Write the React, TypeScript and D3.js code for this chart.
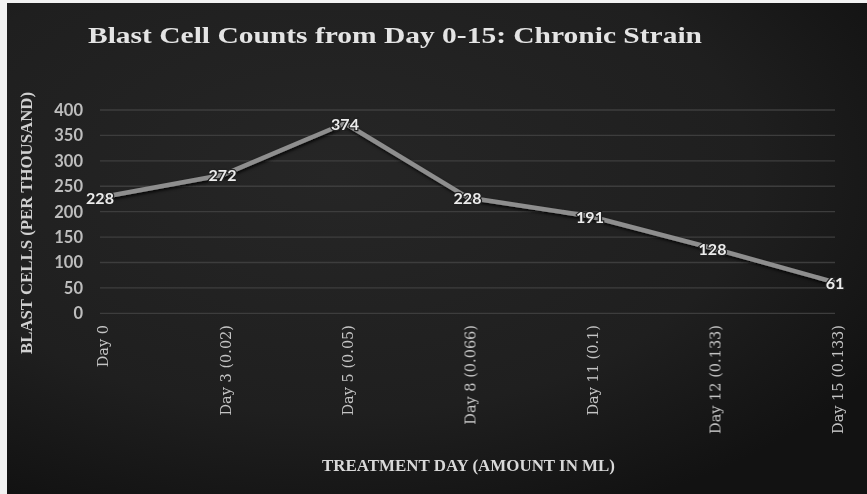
import React from "react";
import * as d3 from "d3";

const categories = [
  "Day 0",
  "Day 3 (0.02)",
  "Day 5 (0.05)",
  "Day 8 (0.066)",
  "Day 11 (0.1)",
  "Day 12 (0.133)",
  "Day 15 (0.133)",
];
const blastCounts = [228, 272, 374, 228, 191, 128, 61];
const yTicks = [0, 50, 100, 150, 200, 250, 300, 350, 400];

const title = "Blast Cell Counts from Day 0-15: Chronic Strain";
const xTitle = "TREATMENT DAY (AMOUNT IN ML)";
const yTitle = "BLAST CELLS (PER THOUSAND)";

const W = 867;
const H = 494;
const plot = { left: 100, right: 835, top: 110, bottom: 313.3 };

export default function App() {
  const x = d3
    .scalePoint<string>()
    .domain(categories)
    .range([plot.left, plot.right]);
  const y = d3.scaleLinear().domain([0, 400]).range([plot.bottom, plot.top]);

  const line = d3
    .line<number>()
    .x((_, i) => x(categories[i]) as number)
    .y((d) => y(d));
  const path = line(blastCounts) || "";

  const serif = "'Liberation Serif', 'DejaVu Serif', serif";
  const sans = "Lato, 'Open Sans', sans-serif";

  return (
    <svg
      width={W}
      height={H}
      style={{ position: "absolute", left: 0, top: 0 }}
    >
      <defs>
        <radialGradient id="bg" cx="0.38" cy="0.35" r="0.75">
          <stop offset="0" stopColor="#262626" />
          <stop offset="0.65" stopColor="#1f1f1f" />
          <stop offset="1" stopColor="#121212" />
        </radialGradient>
        <filter id="shadow" x="-5%" y="-20%" width="110%" height="140%">
          <feDropShadow dx="1" dy="2" stdDeviation="1.5" floodColor="#000" floodOpacity="0.8" />
        </filter>
        <filter id="soft">
          <feGaussianBlur stdDeviation="0.35" />
        </filter>
      </defs>
      <rect x={0} y={0} width={W} height={H} fill="#f2f2f2" />
      <rect x={7} y={3} width={W - 7} height={H - 3} fill="url(#bg)" />

      <g filter="url(#soft)">
        {/* title */}
        <text
          x={88}
          y={43}
          fontFamily={serif}
          fontWeight="bold"
          fontSize={22.5}
          fill="#e4e4e4"
          textLength={614}
          lengthAdjust="spacingAndGlyphs"
        >
          {title}
        </text>

        {/* horizontal gridlines */}
        {yTicks.map((t) => (
          <line
            key={"g" + t}
            x1={plot.left}
            x2={plot.right}
            y1={y(t)}
            y2={y(t)}
            stroke="#3d3d3d"
            strokeWidth={1.3}
          />
        ))}

        {/* y tick labels */}
        {yTicks.map((t) => (
          <text
            key={"yt" + t}
            x={83}
            y={y(t)}
            dy="0.36em"
            textAnchor="end"
            fontFamily={sans}
            fontWeight="bold"
            fontSize={16.5}
            fill="#bdbdbd"
          >
            {t}
          </text>
        ))}

        {/* y axis title */}
        <text
          transform={`translate(32,223) rotate(-90)`}
          textAnchor="middle"
          fontFamily={serif}
          fontWeight="bold"
          fontSize={16}
          fill="#d0d0d0"
          textLength={262}
          lengthAdjust="spacingAndGlyphs"
        >
          {yTitle}
        </text>

        {/* x tick labels */}
        {categories.map((c) => (
          <text
            key={"xt" + c}
            transform={`translate(${(x(c) as number) + 3},325) rotate(-90)`}
            textAnchor="end"
            dy="0.35em"
            fontFamily="'DejaVu Serif', serif"
            fontSize={14.5}
            fill="#c4c4c4"
          >
            {c}
          </text>
        ))}

        {/* x axis title */}
        <text
          x={322}
          y={471}
          fontFamily={serif}
          fontWeight="bold"
          fontSize={17}
          fill="#d8d8d8"
          textLength={293}
          lengthAdjust="spacingAndGlyphs"
        >
          {xTitle}
        </text>

        {/* series line */}
        <path
          d={path}
          fill="none"
          stroke="#8e8e8e"
          strokeWidth={4.5}
          strokeLinejoin="round"
          filter="url(#shadow)"
        />

        {/* data labels */}
        {blastCounts.map((v, i) => (
          <text
            key={"dl" + i}
            x={x(categories[i]) as number}
            y={y(v)}
            dy="0.4em"
            textAnchor="middle"
            fontFamily={sans}
            fontWeight="bold"
            fontSize={16}
            fill="#ececec"
            stroke="#222"
            strokeWidth={2.5}
            paintOrder="stroke"
          >
            {v}
          </text>
        ))}
      </g>
    </svg>
  );
}
